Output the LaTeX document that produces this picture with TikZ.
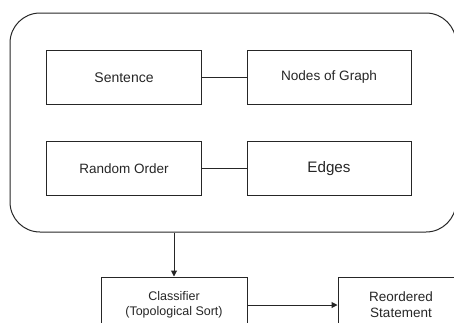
\documentclass[tikz,border=0pt]{standalone}
\usepackage{fontspec}
\setmainfont{Liberation Sans}
\usetikzlibrary{arrows.meta}
\begin{document}
\begin{tikzpicture}[x=1pt,y=-1pt,
  box/.style={draw=black!85, line width=1pt, minimum width=155pt, minimum height=54.5pt, inner sep=0pt, align=center, text=black!85},
  conn/.style={draw=black!85, line width=1pt},
  arr/.style={conn, -{Triangle[length=6pt,width=6pt]}}]
\useasboundingbox (0,0) rectangle (454,322);
\begin{scope}
\clip (0,0) rectangle (454,322);
\node[draw=black!85, line width=1pt, rounded corners=30pt, minimum width=446pt, minimum height=219pt, inner sep=0pt] (outer) at (233,122.5) {};
\node[box, font=\fontsize{14}{16}\selectfont] (sent) at (124,77.3) {Sentence};
\node[box, minimum width=164pt, font=\fontsize{13.6}{16}\selectfont] (nodes) at (329,77.3) {Nodes of Graph};
\node[box, font=\fontsize{13.5}{16}\selectfont] (rand) at (124,168.3) {Random Order};
\node[box, minimum width=164pt, font=\fontsize{15.2}{17}\selectfont] (edges) at (329,168.3) {Edges};
\node[box, minimum width=146pt, minimum height=56pt, font=\fontsize{12.5}{15}\selectfont] (cls) at (174,305) {Classifier\\(Topological Sort)};
\node[box, minimum width=126pt, minimum height=56pt, font=\fontsize{13.5}{16}\selectfont] (reo) at (401,305) {Reordered\\Statement};
\draw[conn] (sent) -- (nodes);
\draw[conn] (rand) -- (edges);
\draw[arr] (cls.north |- outer.south) -- (cls.north);
\draw[arr] (cls) -- (reo);
\end{scope}
\end{tikzpicture}
\end{document}
